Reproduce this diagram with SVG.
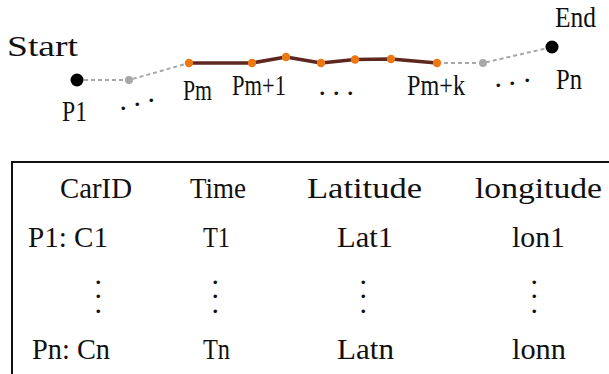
<svg xmlns="http://www.w3.org/2000/svg" width="609" height="374" viewBox="0 0 609 374">
<style>
text{font-family:"Liberation Serif","Times New Roman",serif;font-size:30px;fill:#111}
.lbl{font-size:29px}
.dash{fill:none;stroke:#a8a8a8;stroke-width:2;stroke-dasharray:4 3}
.path{fill:none;stroke:#5e2720;stroke-width:3.5;stroke-linejoin:round}
.ep{fill:#000}
.gp{fill:#a8a8a8}
.op{fill:#ec7812}
.dot{font-size:30px}
</style>
<rect width="609" height="374" fill="#fff"/>
<g id="connectors">
<polyline class="dash" points="77,80 129,80 189,63"/>
<polyline class="dash" points="437,63 483,63 552,47"/>
<polyline class="path" points="189,63 252,63 286,57 321,63 355,59.5 391,59 437,63"/>
</g>
<g id="P1"><circle class="ep" cx="77" cy="80" r="6.5"/><text class="lbl" x="7" y="56" textLength="71" lengthAdjust="spacingAndGlyphs">Start</text><text class="lbl" x="62" y="121" textLength="25" lengthAdjust="spacingAndGlyphs">P1</text></g>
<g id="g1"><circle class="gp" cx="129" cy="80" r="4"/></g>
<g id="dots1"><text class="dot" x="119.5 133.5 147.5" y="110 106 102">...</text></g>
<g id="Pm"><circle class="op" cx="189" cy="63" r="4.2"/><text class="lbl" x="183" y="100" textLength="29" lengthAdjust="spacingAndGlyphs">Pm</text></g>
<g id="Pm1"><circle class="op" cx="252" cy="63" r="4.2"/><text class="lbl" x="232" y="95" textLength="54" lengthAdjust="spacingAndGlyphs">Pm+1</text></g>
<g id="o3"><circle class="op" cx="286" cy="57" r="4.2"/></g>
<g id="o4"><circle class="op" cx="321" cy="63" r="4.2"/></g>
<g id="o5"><circle class="op" cx="355" cy="59.5" r="4.2"/></g>
<g id="o6"><circle class="op" cx="391" cy="59" r="4.2"/></g>
<g id="dots2"><text class="dot" x="318.5 332.5 346.5" y="95 95 95">...</text></g>
<g id="Pmk"><circle class="op" cx="437" cy="63" r="4.2"/><text class="lbl" x="407" y="95" textLength="58" lengthAdjust="spacingAndGlyphs">Pm+k</text></g>
<g id="g2"><circle class="gp" cx="483" cy="63" r="4"/></g>
<g id="dots3"><text class="dot" x="494.5 508.5 523.5" y="87 85 82">...</text></g>
<g id="Pn"><circle class="ep" cx="552" cy="47" r="6.5"/><text class="lbl" x="555" y="27" textLength="41" lengthAdjust="spacingAndGlyphs">End</text><text class="lbl" x="556" y="89" textLength="26" lengthAdjust="spacingAndGlyphs">Pn</text></g>
<g id="table">
<path d="M12,376 V162 H611" fill="none" stroke="#111" stroke-width="2"/>
<text x="60" y="198" textLength="72" lengthAdjust="spacingAndGlyphs">CarID</text>
<text x="190" y="198" textLength="56" lengthAdjust="spacingAndGlyphs">Time</text>
<text x="307" y="198" textLength="115" lengthAdjust="spacingAndGlyphs">Latitude</text>
<text x="475" y="198" textLength="127" lengthAdjust="spacingAndGlyphs">longitude</text>
<text x="28" y="247" textLength="80" lengthAdjust="spacingAndGlyphs">P1: C1</text>
<text x="203" y="247" textLength="27" lengthAdjust="spacingAndGlyphs">T1</text>
<text x="337" y="247" textLength="56" lengthAdjust="spacingAndGlyphs">Lat1</text>
<text x="512" y="247" textLength="53" lengthAdjust="spacingAndGlyphs">lon1</text>
<text class="dot" x="94.5 94.5 94.5" y="284 298 313">...</text>
<text class="dot" x="211.5 211.5 211.5" y="284 298 313">...</text>
<text class="dot" x="359.5 359.5 359.5" y="284 298 313">...</text>
<text class="dot" x="530.5 530.5 530.5" y="284 298 313">...</text>
<text x="32" y="359" textLength="78" lengthAdjust="spacingAndGlyphs">Pn: Cn</text>
<text x="203" y="359" textLength="27" lengthAdjust="spacingAndGlyphs">Tn</text>
<text x="337" y="359" textLength="57" lengthAdjust="spacingAndGlyphs">Latn</text>
<text x="512" y="359" textLength="54" lengthAdjust="spacingAndGlyphs">lonn</text>
</g>
</svg>
